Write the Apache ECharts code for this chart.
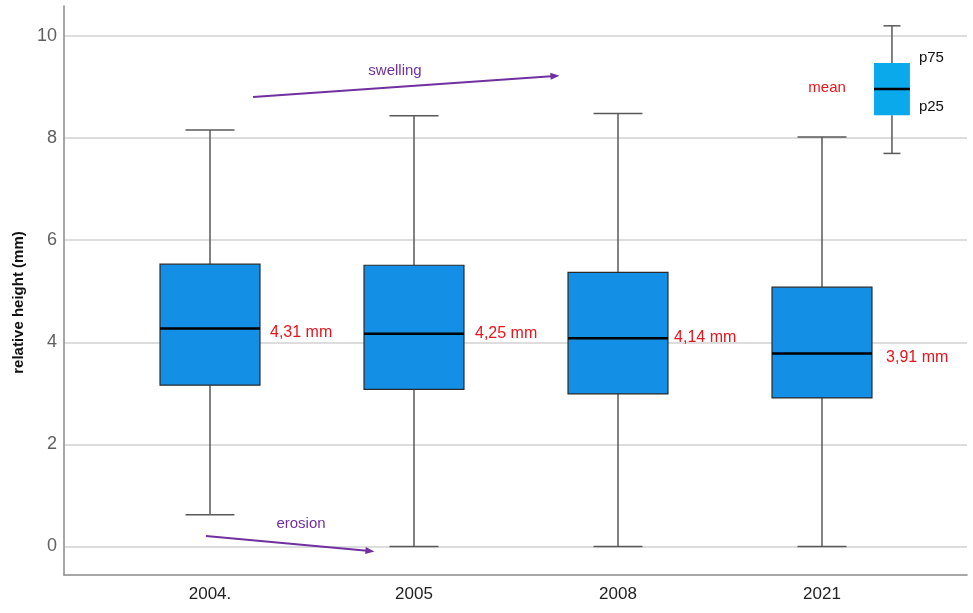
<!DOCTYPE html>
<html>
<head>
<meta charset="utf-8">
<script src="https://cdn.jsdelivr.net/npm/echarts@6/dist/echarts.min.js"></script>
<style>
html,body{margin:0;padding:0;background:#fff;}
#chart{width:973px;height:613px;}
</style>
</head>
<body>
<div id="chart"></div>
<script>
// ---- data ----
const categories = ['2004.', '2005', '2008', '2021'];
const whiskerLow  = [0.62, 0, 0, 0];
const q1          = [3.16, 3.08, 2.99, 2.91];
const median      = [4.27, 4.17, 4.08, 3.78];
const q3          = [5.53, 5.51, 5.37, 5.08];
const whiskerHigh = [8.16, 8.44, 8.48, 8.02];
const meanLabels  = ['4,31 mm', '4,25 mm', '4,14 mm', '3,91 mm'];
// legend example box: low, p25, mid, p75, high
const legendStats = [7.70, 8.45, 8.96, 9.47, 10.2];
const legendTexts = ['p75', 'p25', 'mean'];
const arrowTexts  = ['swelling', 'erosion'];

// ---- annotation placement (data coordinates) ----
const meanLabelPos = [[0.294, 4.20], [1.299, 4.17], [2.275, 4.10], [3.314, 3.71]];
const legendX = 3.343;
const legendTextPos = [[3.475, 9.57, 'left', '#111'], [3.475, 8.61, 'left', '#111'], [3.025, 8.98, 'center', '#e8141c']];
const arrowLines = [[[0.211, 8.805], [1.691, 9.217]], [[-0.02, 0.206], [0.784, -0.088]]];
const arrowTextPos = [[0.907, 9.315], [0.446, 0.441]];

const FONT = 'Liberation Sans, Arial, Helvetica, sans-serif';
const Y_MIN = -0.558, Y_MAX = 10.588;
const X_MIN = -0.7157, X_MAX = 3.7108;

const chart = echarts.init(document.getElementById('chart'));

const boxData = categories.map((c, i) => [i, whiskerLow[i], q1[i], median[i], q3[i], whiskerHigh[i]]);

function boxRender(boxFrac, capFrac, fill, stroke) {
  return function (params, api) {
    const x = api.value(0);
    const unit = api.size([1, 0])[0];
    const bw = unit * boxFrac, cw = unit * capFrac;
    const pLow = api.coord([x, api.value(1)]);
    const pQ1 = api.coord([x, api.value(2)]);
    const pMed = api.coord([x, api.value(3)]);
    const pQ3 = api.coord([x, api.value(4)]);
    const pHigh = api.coord([x, api.value(5)]);
    const cx = pMed[0];
    const wStyle = { stroke: '#595959', lineWidth: 1.5 };
    return {
      type: 'group',
      children: [
        { type: 'line', shape: { x1: cx, y1: pHigh[1], x2: cx, y2: pQ3[1] }, style: wStyle },
        { type: 'line', shape: { x1: cx, y1: pLow[1], x2: cx, y2: pQ1[1] }, style: wStyle },
        { type: 'line', shape: { x1: cx - cw / 2, y1: pHigh[1], x2: cx + cw / 2, y2: pHigh[1] }, style: wStyle },
        { type: 'line', shape: { x1: cx - cw / 2, y1: pLow[1], x2: cx + cw / 2, y2: pLow[1] }, style: wStyle },
        { type: 'rect', shape: { x: cx - bw / 2, y: pQ3[1], width: bw, height: pQ1[1] - pQ3[1] },
          style: { fill: fill, stroke: stroke, lineWidth: stroke ? 1.2 : 0 } },
        { type: 'line', shape: { x1: cx - bw / 2, y1: pMed[1], x2: cx + bw / 2, y2: pMed[1] },
          style: { stroke: '#000', lineWidth: 2.5 } }
      ]
    };
  };
}

function textRender(texts, posArr, fontSize, colorFn, alignFn) {
  return function (params, api) {
    const i = params.dataIndex;
    const q = api.coord([api.value(0), api.value(1)]);
    return { type: 'text', style: { text: texts[i], x: q[0], y: q[1],
      fill: colorFn(i), fontSize: fontSize, fontFamily: FONT, align: alignFn(i), verticalAlign: 'middle' } };
  };
}

const option = {
  animation: false,
  backgroundColor: '#ffffff',
  grid: [
    { left: 64, right: 6, top: 6, bottom: 38, containLabel: false },
    { left: 108, right: 49, top: 6, bottom: 38, containLabel: false }
  ],
  xAxis: [
    { type: 'value', gridIndex: 0, min: X_MIN, max: X_MAX,
      axisLine: { show: true, onZero: false, lineStyle: { color: '#8a8a8a', width: 1.5 } },
      axisTick: { show: false }, axisLabel: { show: false }, splitLine: { show: false } },
    { type: 'category', gridIndex: 1, data: categories, boundaryGap: true,
      axisLine: { show: false }, axisTick: { show: false }, splitLine: { show: false },
      axisLabel: { color: '#222', fontSize: 17, fontFamily: FONT, margin: 11 } }
  ],
  yAxis: [
    { type: 'value', gridIndex: 0, min: Y_MIN, max: Y_MAX, splitNumber: 5,
      name: 'relative height (mm)', nameLocation: 'middle', nameGap: 31, nameRotate: 90,
      nameTextStyle: { color: '#111', fontSize: 15, fontWeight: 'bold', fontFamily: FONT, padding: [0, 24, 0, 0] },
      axisLine: { show: true, onZero: false, lineStyle: { color: '#8a8a8a', width: 1.5 } },
      axisTick: { show: false },
      axisLabel: { color: '#606060', fontSize: 18, fontFamily: FONT, margin: 7, showMinLabel: false, showMaxLabel: false },
      splitLine: { show: true, showMinLine: false, showMaxLine: false, lineStyle: { color: '#d2d2d2', width: 1.5 } } },
    { type: 'value', gridIndex: 1, min: Y_MIN, max: Y_MAX, show: false,
      axisLine: { show: false, onZero: false }, splitLine: { show: false } }
  ],
  series: [
    {
      type: 'custom', xAxisIndex: 0, yAxisIndex: 0, silent: true,
      data: boxData,
      encode: { x: 0, y: [1, 2, 3, 4, 5] },
      renderItem: boxRender(0.49, 0.24, '#148fe6', '#2a2a2a')
    },
    {
      type: 'custom', xAxisIndex: 0, yAxisIndex: 0, silent: true,
      data: [[legendX].concat(legendStats)],
      encode: { x: 0, y: [1, 2, 3, 4, 5] },
      renderItem: boxRender(0.176, 0.083, '#0aa9ec', null)
    },
    {
      type: 'custom', xAxisIndex: 0, yAxisIndex: 0, silent: true,
      data: meanLabelPos.map(p => [p[0], p[1]]),
      renderItem: textRender(meanLabels, meanLabelPos, 16, () => '#e8141c', () => 'left')
    },
    {
      type: 'custom', xAxisIndex: 0, yAxisIndex: 0, silent: true,
      data: legendTextPos.map(p => [p[0], p[1]]),
      renderItem: textRender(legendTexts, legendTextPos, 15, i => legendTextPos[i][3], i => legendTextPos[i][2])
    },
    {
      type: 'custom', xAxisIndex: 0, yAxisIndex: 0, silent: true,
      data: arrowTextPos.map(p => [p[0], p[1]]),
      renderItem: textRender(arrowTexts, arrowTextPos, 15, () => '#7030a0', () => 'center'),
      markLine: {
        silent: true, symbol: ['none', 'triangle'], symbolSize: [7, 9],
        label: { show: false },
        lineStyle: { color: '#7030a0', width: 2, type: 'solid' },
        emphasis: { disabled: true },
        data: arrowLines.map(l => [{ coord: l[0] }, { coord: l[1] }])
      }
    }
  ]
};

chart.setOption(option);
</script>
</body>
</html>
